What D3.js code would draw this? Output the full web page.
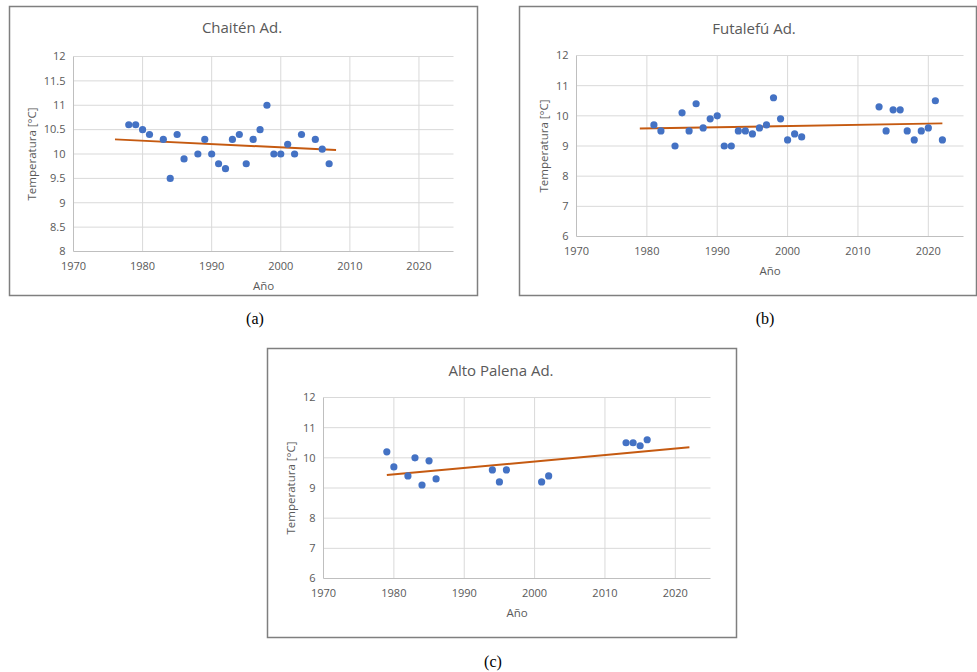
<!DOCTYPE html>
<html>
  <head>
    <meta charset="UTF-8" />
    <script src="https://cdnjs.cloudflare.com/ajax/libs/d3/7.8.5/d3.min.js"></script>
    <style>
      body { margin: 0; background: #fff; }
      svg { display: block; }
      .frame { fill: #fff; stroke: #7f7f7f; stroke-width: 1.5; }
      .grid line { stroke: #d9d9d9; stroke-width: 1; }
      .axisline { stroke: #bfbfbf; stroke-width: 1; }
      .tick-label { font-family: "Open Sans", "Liberation Sans", sans-serif; font-size: 11px; fill: #595959; }
      .axis-title { font-family: "Open Sans", "Liberation Sans", sans-serif; font-size: 11.5px; fill: #595959; }
      .chart-title { font-family: "Open Sans", "Liberation Sans", sans-serif; font-size: 15px; fill: #595959; }
      .caption { font-family: "Liberation Serif", "Times New Roman", serif; font-size: 16px; fill: #000; }
      circle.dot { fill: #4472c4; }
      path.trend { fill: none; stroke: #c55a11; stroke-width: 2; }
    </style>
  </head>
  <body>
    <svg width="977" height="672"></svg>
    <script>
      // Chaitén Ad.
      var chaitenYears = [1978, 1979, 1980, 1981, 1983, 1984, 1985, 1986, 1988, 1989, 1990, 1991, 1992, 1993, 1994, 1995, 1996, 1997, 1998, 1999, 2000, 2001, 2002, 2003, 2005, 2006, 2007];
      var chaitenTemps = [10.6, 10.6, 10.5, 10.4, 10.3, 9.5, 10.4, 9.9, 10.0, 10.3, 10.0, 9.8, 9.7, 10.3, 10.4, 9.8, 10.3, 10.5, 11.0, 10.0, 10.0, 10.2, 10.0, 10.4, 10.3, 10.1, 9.8];
      var chaitenTrend = [[1976, 10.30], [2008, 10.08]];

      // Futalefú Ad.
      var futaleYears = [1981, 1982, 1984, 1985, 1986, 1987, 1988, 1989, 1990, 1991, 1992, 1993, 1994, 1995, 1996, 1997, 1998, 1999, 2000, 2001, 2002, 2013, 2014, 2015, 2016, 2017, 2018, 2019, 2020, 2021, 2022];
      var futaleTemps = [9.7, 9.5, 9.0, 10.1, 9.5, 10.4, 9.6, 9.9, 10.0, 9.0, 9.0, 9.5, 9.5, 9.4, 9.6, 9.7, 10.6, 9.9, 9.2, 9.4, 9.3, 10.3, 9.5, 10.2, 10.2, 9.5, 9.2, 9.5, 9.6, 10.5, 9.2];
      var futaleTrend = [[1979, 9.58], [2022, 9.75]];

      // Alto Palena Ad.
      var paleYears = [1979, 1980, 1982, 1983, 1984, 1985, 1986, 1994, 1995, 1996, 2001, 2002, 2013, 2014, 2015, 2016];
      var paleTemps = [10.2, 9.7, 9.4, 10.0, 9.1, 9.9, 9.3, 9.6, 9.2, 9.6, 9.2, 9.4, 10.5, 10.5, 10.4, 10.6];
      var paleTrend = [[1979, 9.43], [2022, 10.35]];

      var xTicks = [1970, 1980, 1990, 2000, 2010, 2020];
      var yTicksA = [8, 8.5, 9, 9.5, 10, 10.5, 11, 11.5, 12];
      var yTicksBC = [6, 7, 8, 9, 10, 11, 12];

      var svg = d3.select("svg");

      function drawPanel(p) {
        var g = svg.append("g");

        g.append("rect")
          .attr("class", "frame")
          .attr("x", p.frame[0])
          .attr("y", p.frame[1])
          .attr("width", p.frame[2] - p.frame[0])
          .attr("height", p.frame[3] - p.frame[1]);

        var x = d3.scaleLinear().domain([1970, 2025]).range([p.plot[0], p.plot[2]]);
        var y = d3.scaleLinear().domain([p.yTicks[0], p.yTicks[p.yTicks.length - 1]]).range([p.plot[3], p.plot[1]]);

        var grid = g.append("g").attr("class", "grid");
        grid.selectAll("line.h")
          .data(p.yTicks.slice(1))
          .enter()
          .append("line")
          .attr("x1", x(1970)).attr("x2", x(2025))
          .attr("y1", d => y(d)).attr("y2", d => y(d));
        grid.selectAll("line.v")
          .data(xTicks.slice(1))
          .enter()
          .append("line")
          .attr("y1", y.range()[0]).attr("y2", y.range()[1])
          .attr("x1", d => x(d)).attr("x2", d => x(d));

        g.append("line").attr("class", "axisline")
          .attr("x1", x(1970)).attr("x2", x(2025))
          .attr("y1", y.range()[0]).attr("y2", y.range()[0]);
        g.append("line").attr("class", "axisline")
          .attr("x1", x(1970)).attr("x2", x(1970))
          .attr("y1", y.range()[0]).attr("y2", y.range()[1]);

        g.selectAll("text.ytick")
          .data(p.yTicks)
          .enter()
          .append("text")
          .attr("class", "tick-label")
          .attr("x", x(1970) - 8)
          .attr("y", d => y(d))
          .attr("dy", "0.35em")
          .attr("text-anchor", "end")
          .text(d => d);

        g.selectAll("text.xtick")
          .data(xTicks)
          .enter()
          .append("text")
          .attr("class", "tick-label")
          .attr("x", d => x(d))
          .attr("y", y.range()[0] + 15)
          .attr("dy", "0.35em")
          .attr("text-anchor", "middle")
          .text(d => d);

        g.append("text")
          .attr("class", "chart-title")
          .attr("x", p.titlePos[0])
          .attr("y", p.titlePos[1])
          .attr("dy", "0.35em")
          .attr("text-anchor", "middle")
          .text(p.title);

        g.append("text")
          .attr("class", "axis-title")
          .attr("x", (x(1970) + x(2025)) / 2)
          .attr("y", p.xTitleY)
          .attr("dy", "0.35em")
          .attr("text-anchor", "middle")
          .text("Año");

        g.append("text")
          .attr("class", "axis-title")
          .attr("transform", "translate(" + p.yTitleX + "," + (y.range()[0] + y.range()[1]) / 2 + ") rotate(-90)")
          .attr("dy", "0.35em")
          .attr("text-anchor", "middle")
          .text("Temperatura [°C]");

        g.append("path")
          .datum(p.trend)
          .attr("class", "trend")
          .attr("d", d3.line().x(d => x(d[0])).y(d => y(d[1])));

        g.selectAll("circle.dot")
          .data(p.years)
          .enter()
          .append("circle")
          .attr("class", "dot")
          .attr("r", 3.6)
          .attr("cx", d => x(d))
          .attr("cy", (d, i) => y(p.temps[i]));

        svg.append("text")
          .attr("class", "caption")
          .attr("x", p.caption[0])
          .attr("y", p.caption[1])
          .attr("dy", "0.35em")
          .attr("text-anchor", "middle")
          .text(p.label);
      }

      drawPanel({
        title: "Chaitén Ad.", label: "(a)",
        years: chaitenYears, temps: chaitenTemps, trend: chaitenTrend, yTicks: yTicksA,
        frame: [9.5, 6.5, 477.5, 295.5], plot: [73.5, 56.5, 453.5, 251.5],
        titlePos: [242, 28], xTitleY: 286, yTitleX: 32, caption: [255, 318]
      });

      drawPanel({
        title: "Futalefú Ad.", label: "(b)",
        years: futaleYears, temps: futaleTemps, trend: futaleTrend, yTicks: yTicksBC,
        frame: [519.5, 6.5, 976.5, 295.5], plot: [576.5, 55.5, 963.5, 236.5],
        titlePos: [754, 29], xTitleY: 271, yTitleX: 544, caption: [765, 318]
      });

      drawPanel({
        title: "Alto Palena Ad.", label: "(c)",
        years: paleYears, temps: paleTemps, trend: paleTrend, yTicks: yTicksBC,
        frame: [267.5, 348.5, 736.5, 637.5], plot: [323.5, 397.5, 710.5, 578.5],
        titlePos: [501, 371], xTitleY: 613, yTitleX: 291, caption: [493, 661]
      });
    </script>
  </body>
</html>
